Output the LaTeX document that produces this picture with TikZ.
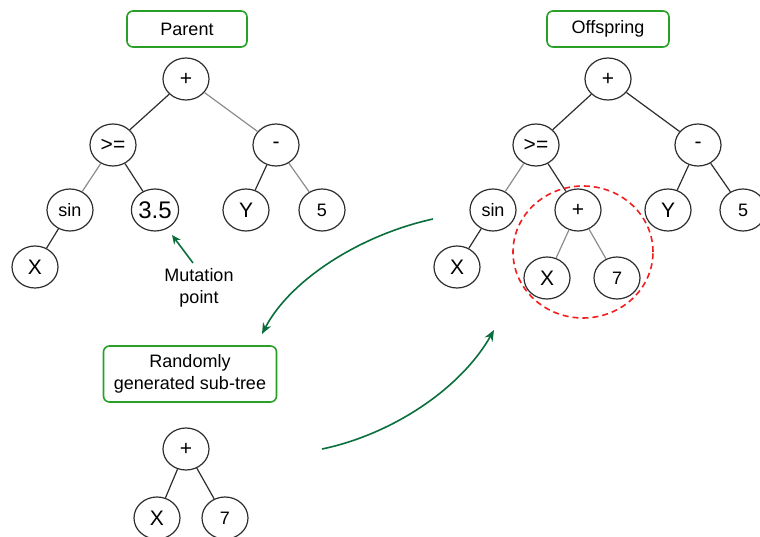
\documentclass[tikz,border=0pt]{standalone}
\usepackage{fontspec}
\setmainfont{Liberation Sans}
\usetikzlibrary{arrows.meta,shapes.geometric}
\definecolor{boxgreen}{RGB}{40,160,40}
\definecolor{arrgreen}{RGB}{10,110,60}
\definecolor{edgedark}{RGB}{45,45,45}
\definecolor{edgelight}{RGB}{140,140,140}
\definecolor{cutred}{RGB}{240,30,30}
\tikzset{
  tnode/.style={draw=edgedark, line width=1.2pt, ellipse, minimum width=46pt, minimum height=42pt, inner sep=0pt, font=\fontsize{18}{20}\selectfont},
  opsym/.style={font=\fontsize{21}{23}\selectfont},
  bignum/.style={font=\fontsize{24}{26}\selectfont},
  midnum/.style={font=\fontsize{21}{24}\selectfont},
  label box/.style={draw=boxgreen, line width=1.6pt, rounded corners=6pt, minimum height=36pt, inner sep=0pt, align=center, font=\fontsize{18}{22}\selectfont},
  dk/.style={draw=edgedark, line width=1.2pt},
  lt/.style={draw=edgelight, line width=1.2pt},
  flow/.style={draw=arrgreen, line width=1.6pt, -{Stealth[length=11pt,width=9pt]}},
}
\begin{document}
\begin{tikzpicture}[x=1pt,y=-1pt]
\useasboundingbox (0,0) rectangle (760,537);

% ---- parent tree ----
\node[label box, minimum width=120pt] (ptitle) at (187,29) {Parent};
\node[tnode, opsym] (p1) at (186,79) {+};
\node[tnode, opsym] (p2) at (113,145) {>=};
\node[tnode, opsym] (p3) at (276,145) {-};
\node[tnode] (p4) at (70,210) {sin};
\node[tnode, bignum] (p5) at (155,210) {3.5};
\node[tnode, midnum] (p6) at (246,210) {Y};
\node[tnode] (p7) at (322,210) {5};
\node[tnode, midnum] (p8) at (35,267) {X};
\draw[dk] (p1) -- (p2);
\draw[lt] (p1) -- (p3);
\draw[lt] (p2) -- (p4);
\draw[dk] (p2) -- (p5);
\draw[dk] (p3) -- (p6);
\draw[lt] (p3) -- (p7);
\draw[dk] (p4) -- (p8);

% mutation marker
\node[align=center, font=\fontsize{18}{22}\selectfont] (mut) at (199,288) {Mutation\\point};
\coordinate (mtail) at (193,263);
\coordinate (mtip) at (172,235);
\draw[draw=arrgreen, line width=1.6pt, -{Stealth[length=9pt,width=8pt]}] (mtail) -- (mtip);

% ---- offspring tree ----
\node[label box, minimum width=122pt] (otitle) at (608,29) {Offspring};
\node[tnode, opsym] (o1) at (608,79) {+};
\node[tnode, opsym] (o2) at (536,145) {>=};
\node[tnode, opsym] (o3) at (698,145) {-};
\node[tnode] (o4) at (493,210) {sin};
\node[tnode, opsym] (o5) at (578,210) {+};
\node[tnode, midnum] (o6) at (668,210) {Y};
\node[tnode] (o7) at (743,210) {5};
\node[tnode, midnum] (o8) at (457,267) {X};
\node[tnode, midnum] (o9) at (547,278) {X};
\node[tnode] (o10) at (617,278) {7};
\draw[dk] (o1) -- (o2);
\draw[dk] (o1) -- (o3);
\draw[lt] (o2) -- (o4);
\draw[dk] (o2) -- (o5);
\draw[dk] (o3) -- (o6);
\draw[dk] (o3) -- (o7);
\draw[dk] (o4) -- (o8);
\draw[lt] (o5) -- (o9);
\draw[lt] (o5) -- (o10);
\node[draw=cutred, dash pattern=on 6pt off 4pt, line width=1.6pt, ellipse, minimum width=140pt, minimum height=132pt] (cut) at (583,252) {};

% ---- generated sub-tree ----
\node[label box, minimum width=173pt, minimum height=56pt] (stitle) at (190,374) {Randomly\\generated sub-tree};
\node[tnode, opsym] (s1) at (186,449) {+};
\node[tnode, midnum] (s2) at (157,518) {X};
\node[tnode] (s3) at (225,518) {7};
\draw[dk] (s1) -- (s2);
\draw[dk] (s1) -- (s3);

% ---- flow arrows ----
\coordinate (f1s) at (433,219);
\coordinate (f1e) at (262,334);
\coordinate (f2s) at (322,449);
\coordinate (f2e) at (494,330);
\draw[flow] (f1s) .. controls (360,235) and (290,280) .. (f1e);
\draw[flow] (f2s) .. controls (390,435) and (460,390) .. (f2e);
\end{tikzpicture}
\end{document}
